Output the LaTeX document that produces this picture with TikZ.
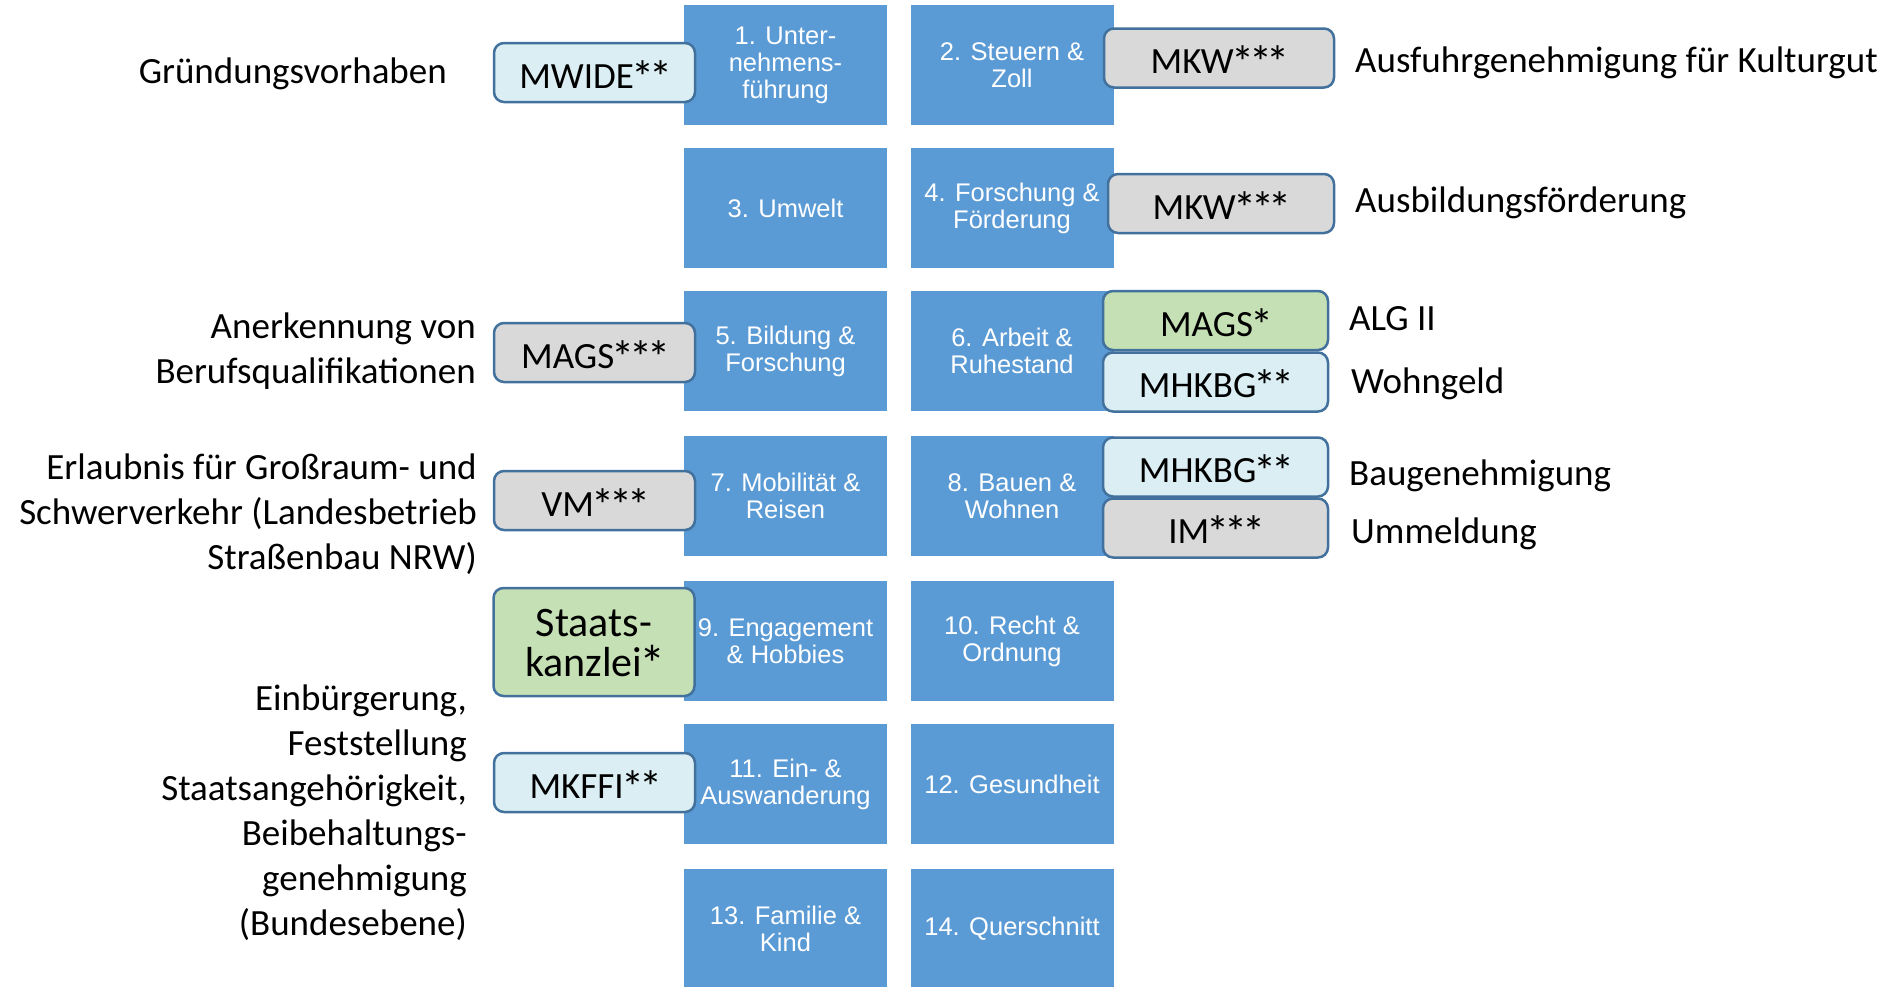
\documentclass[tikz,border=0pt]{standalone}
\usepackage{fontspec}
\usepackage{graphicx}
\setmainfont{Carlito}
\newfontfamily\arialfont{Liberation Sans}
\usetikzlibrary{positioning}
\definecolor{fieldblue}{HTML}{5B9BD5}
\definecolor{edgeblue}{HTML}{41719C}
\definecolor{paleblue}{HTML}{DAEEF3}
\definecolor{palegrey}{HTML}{D9D9D9}
\definecolor{palegreen}{HTML}{C5E0B4}
\newcommand{\stern}{\kern-0.07em\raisebox{-0.14em}{\scalebox{1.25}{*}}\kern-0.07em}

\begin{document}
\begin{tikzpicture}[x=1pt,y=-1pt,
  fieldbox/.style={fill=fieldblue, text=white, minimum width=203pt, minimum height=120pt,
    inner sep=0pt, align=center, font=\arialfont\fontsize{25.5}{27}\selectfont},
  ministry/.style={draw=edgeblue, line width=2.5pt, rounded corners=10pt, minimum width=201pt,
    minimum height=59pt, inner sep=0pt, text height=31pt, text depth=0pt, align=center,
    font=\fontsize{37}{40}\selectfont},
  topic/.style={inner sep=0pt, font=\fontsize{37}{45}\selectfont}]
  \useasboundingbox (0,0) rectangle (1888,986);

  % Lebenslagen, linke Spalte
  \node[fieldbox] (b1)  at (785.5,65)  {1. Unter-\\nehmens-\\führung};
  \node[fieldbox] (b3)  at (785.5,208) {3. Umwelt};
  \node[fieldbox] (b5)  at (785.5,351) {5. Bildung \&\\Forschung};
  \node[fieldbox] (b7)  at (785.5,496) {7. Mobilität \&\\Reisen};
  \node[fieldbox] (b9)  at (785.5,641) {9. Engagement\\\& Hobbies};
  \node[fieldbox] (b11) at (785.5,784) {11. Ein- \&\\Auswanderung};
  \node[fieldbox] (b13) at (785.5,929) {13. Familie \&\\Kind};

  % Lebenslagen, rechte Spalte
  \node[fieldbox] (b2)  at (1012,65)  {2. Steuern \&\\Zoll};
  \node[fieldbox] (b4)  at (1012,208) {4. Forschung \&\\Förderung};
  \node[fieldbox] (b6)  at (1012,351) {6. Arbeit \&\\Ruhestand};
  \node[fieldbox] (b8)  at (1012,496) {8. Bauen \&\\Wohnen};
  \node[fieldbox] (b10) at (1012,641) {10. Recht \&\\Ordnung};
  \node[fieldbox] (b12) at (1012,784) {12. Gesundheit};
  \node[fieldbox] (b14) at (1012,929) {14. Querschnitt};

  % Ministerien links
  \node[ministry, fill=paleblue]  (mwide) at (594.5,72.5)  {MWIDE\stern\stern};
  \node[ministry, fill=palegrey]  (mags3) at (594.5,352.5) {MAGS\stern\stern\stern};
  \node[ministry, fill=palegrey]  (vm)    at (594.5,500.5) {VM\stern\stern\stern};
  \node[ministry, fill=palegreen, minimum height=108pt, text height=69pt,
    font=\fontsize{42}{40}\selectfont] (stk) at (594,642) {Staats-\\kanzlei\stern};
  \node[ministry, fill=paleblue]  (mkffi) at (594.5,782.5) {MKFFI\stern\stern};

  % Ministerien rechts
  \node[ministry, fill=palegrey, minimum width=230pt] (mkwa) at (1219,58)    {MKW\stern\stern\stern};
  \node[ministry, fill=palegrey, minimum width=226pt] (mkwb) at (1221,203.5) {MKW\stern\stern\stern};
  \node[ministry, fill=palegreen, minimum width=225pt] (mags1)  at (1215.5,320.5) {MAGS\stern};
  \node[ministry, fill=paleblue,  minimum width=225pt] (mhkbga) at (1215.5,382)   {MHKBG\stern\stern};
  \node[ministry, fill=paleblue,  minimum width=225pt] (mhkbgb) at (1215.5,467)   {MHKBG\stern\stern};
  \node[ministry, fill=palegrey,  minimum width=225pt] (im)     at (1215.5,528)   {IM\stern\stern\stern};

  % Leistungen links
  \node[topic, anchor=east] (gruend) at (447,74) {Gründungsvorhaben};
  \node[topic, anchor=east, align=right] (anerk) at (476,351.5) {Anerkennung von\\Berufsqualifikationen};
  \node[topic, anchor=east, align=right] (erlaub) at (477,514) {Erlaubnis für Großraum- und\\Schwerverkehr (Landesbetrieb\\Straßenbau NRW)};
  \node[topic, anchor=east, align=right] (einb) at (467,813) {Einbürgerung,\\Feststellung\\Staatsangehörigkeit,\\Beibehaltungs-\\genehmigung\\(Bundesebene)};

  % Leistungen rechts
  \node[topic, anchor=west] (ausfuhr) at (1355,63)  {Ausfuhrgenehmigung für Kulturgut};
  \node[topic, anchor=west] (ausbild) at (1355,203) {Ausbildungsförderung};
  \node[topic, anchor=west] (alg)     at (1349,319) {ALG II};
  \node[topic, anchor=west] (wohn)    at (1351,384) {Wohngeld};
  \node[topic, anchor=west] (baug)    at (1349,476) {Baugenehmigung};
  \node[topic, anchor=west] (umm)     at (1351,534) {Ummeldung};
\end{tikzpicture}
\end{document}
